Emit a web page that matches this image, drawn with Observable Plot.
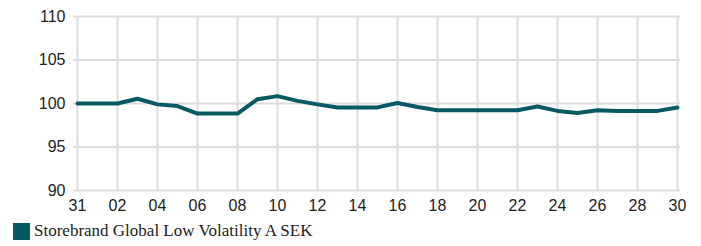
<!DOCTYPE html>
<html>
<head>
<meta charset="utf-8">
<script src="https://cdn.jsdelivr.net/npm/d3@7"></script>
<script src="https://cdn.jsdelivr.net/npm/@observablehq/plot@0.6"></script>
<style>
  body { margin: 0; background: #fff; }
  #legend { display: flex; align-items: center; margin-left: 13px; margin-top: 6px; font-family: "Liberation Serif", "Times New Roman", serif; font-size: 17px; color: #222; }
  #legend .sw { width: 17px; height: 17px; background: #075a64; margin-right: 4px; }
</style>
</head>
<body>
<div id="chart"></div>
<div id="legend"><span class="sw"></span><span>Storebrand Global Low Volatility A SEK</span></div>
<script>
const days = ["31","01","02","03","04","05","06","07","08","09","10","11","12","13","14","15","16","17","18","19","20","21","22","23","24","25","26","27","28","29","30"];
const values = [100, 100, 100, 100.55, 99.9, 99.7, 98.85, 98.85, 98.85, 100.5, 100.85, 100.3, 99.9, 99.55, 99.55, 99.55, 100.05, 99.6, 99.23, 99.23, 99.23, 99.23, 99.23, 99.65, 99.15, 98.92, 99.23, 99.15, 99.15, 99.15, 99.55];
const xTicks = days.filter((d, i) => i % 2 === 0);
const yTicks = [90, 95, 100, 105, 110];
const seriesName = "Storebrand Global Low Volatility A SEK";

const data = days.map((d, i) => ({day: d, value: values[i], series: seriesName}));

const chart = Plot.plot({
  width: 701,
  height: 215,
  marginLeft: 73,
  marginRight: 21,
  marginTop: 16,
  marginBottom: 25,
  style: {fontFamily: "'Liberation Sans', Arial, sans-serif", fontSize: "16px", color: "#222", background: "#fff"},
  x: {type: "point", domain: days, padding: 0},
  y: {domain: [90, 110]},
  marks: [
    Plot.gridX(xTicks, {stroke: "#dcdcdc", strokeOpacity: 1, strokeWidth: 2}),
    Plot.gridY(yTicks, {stroke: "#dcdcdc", strokeOpacity: 1, strokeWidth: 2}),
    Plot.axisX(xTicks, {tickSize: 0, tickPadding: 9, label: null, fill: "#222"}),
    Plot.axisY(yTicks, {tickSize: 0, tickPadding: 8, label: null, fill: "#222"}),
    Plot.line(data, {x: "day", y: "value", stroke: "#075a64", strokeWidth: 4, strokeLinejoin: "round", strokeLinecap: "round"})
  ]
});
document.getElementById("chart").appendChild(chart);
</script>
</body>
</html>
